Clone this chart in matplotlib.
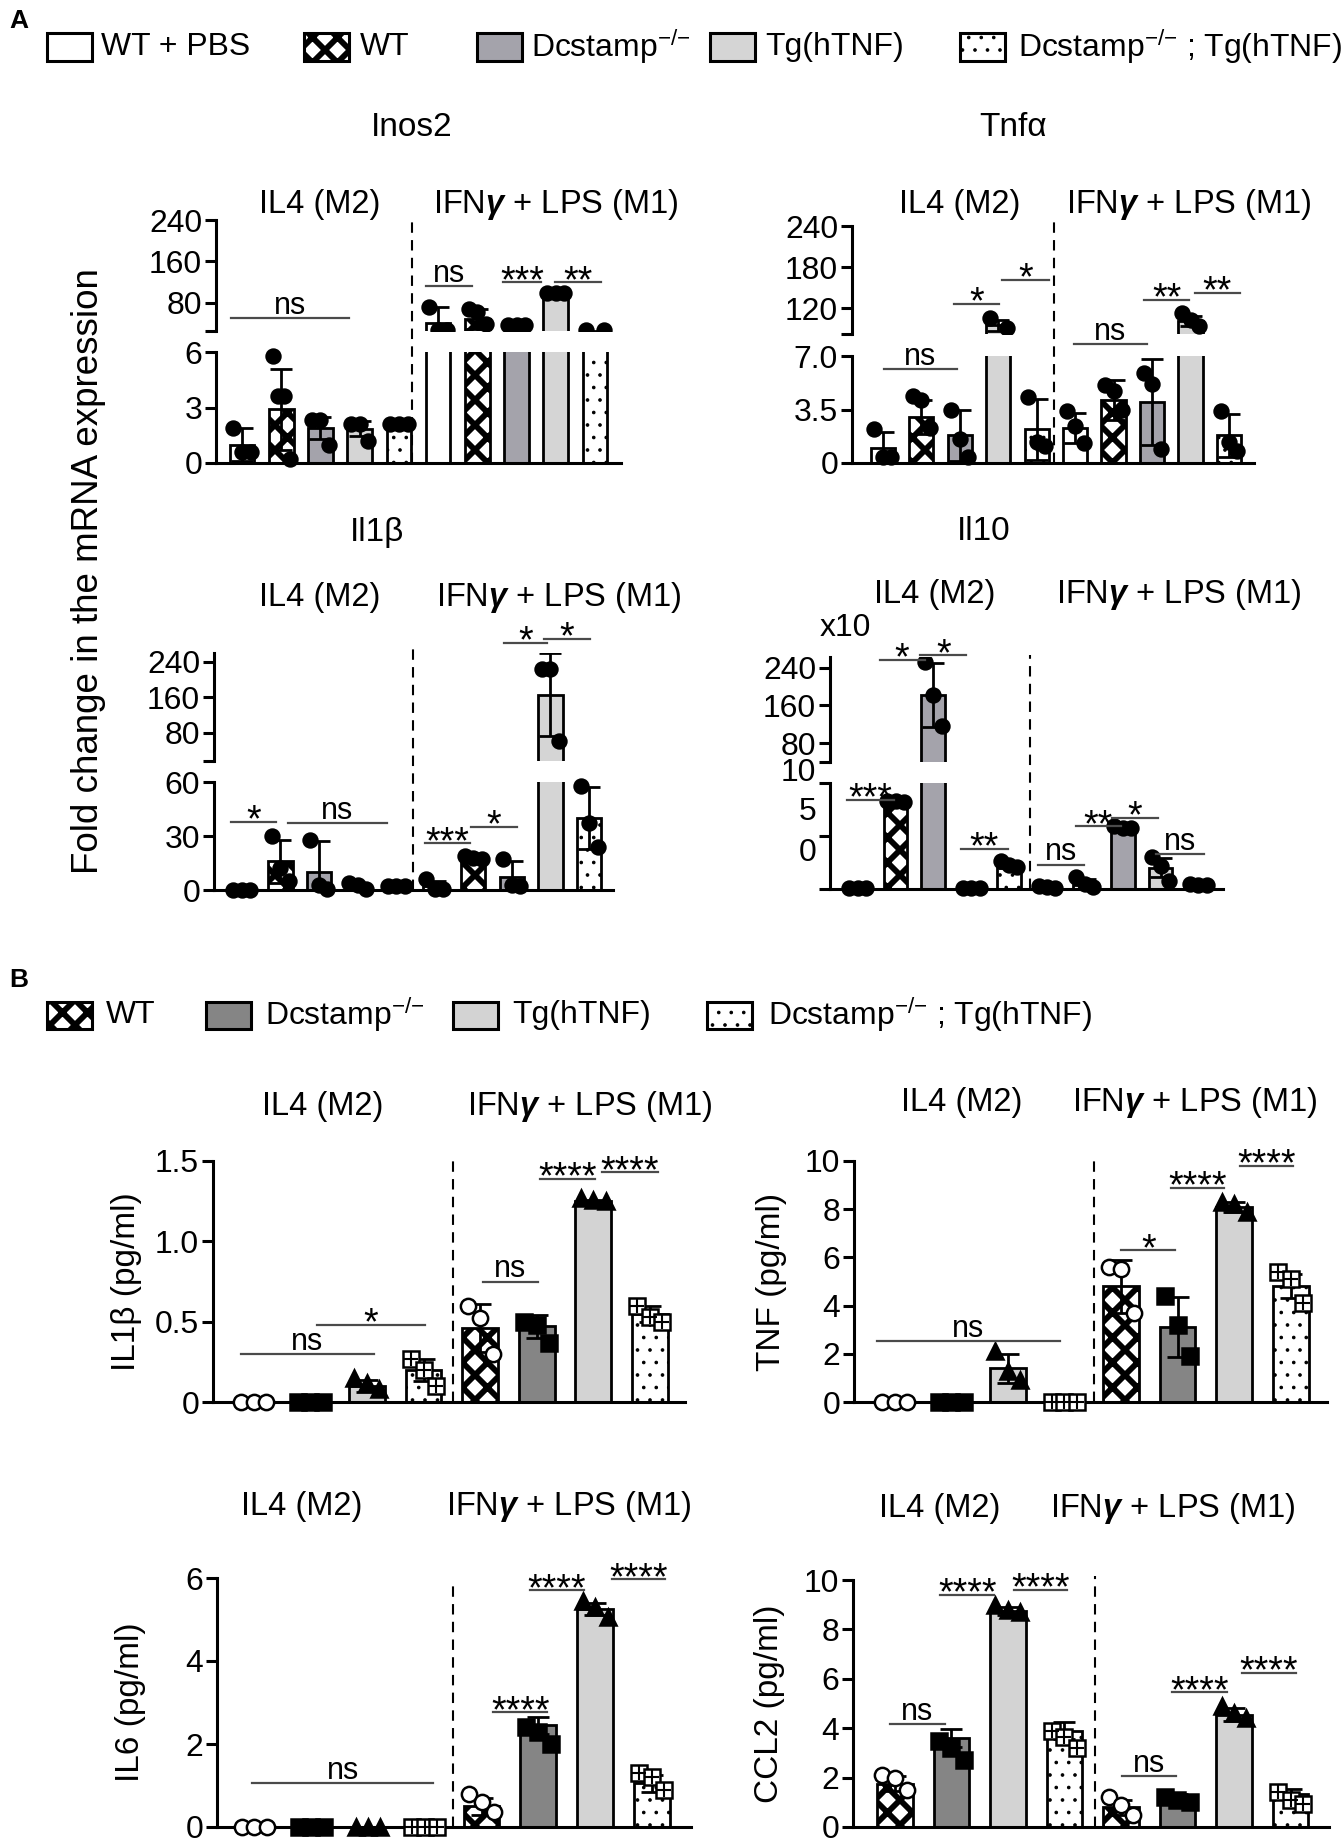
import numpy as np
import matplotlib.pyplot as plt
from matplotlib.patches import Rectangle
from matplotlib.transforms import blended_transform_factory

# rendering at 75 dpi gives hatch cells of 75 px (denser crosshatch);
# every size below is written as if at 100 dpi and scaled by K
DPI = 75
K = 100 / DPI

plt.rcParams['font.family'] = ['Liberation Sans', 'DejaVu Sans']
plt.rcParams['mathtext.fontset'] = 'custom'
plt.rcParams['mathtext.rm'] = 'Liberation Sans'
plt.rcParams['mathtext.it'] = 'Liberation Sans:italic'
plt.rcParams['mathtext.bf'] = 'Liberation Sans:bold:italic'
plt.rcParams['hatch.linewidth'] = 4.2 * K

W, H = 1344, 1847

# ---------------- data ----------------
genotypes = ['WT + PBS', 'WT', r'Dcstamp$^{-/{-}}$', 'Tg(hTNF)', r'Dcstamp$^{-/{-}}$ ; Tg(hTNF)']
treatments = ['IL4 (M2)', r'IFN$\mathbf{\gamma}$ + LPS (M1)']
genes_a = ['Inos2', 'Tnfα', 'Il1β', 'Il10']
cytokines_b = ['IL1β (pg/ml)', 'TNF (pg/ml)', 'IL6 (pg/ml)', 'CCL2 (pg/ml)']

# panel A: 10 bars = 5 genotypes x (IL4, IFNg+LPS); sig = (from, to, height, label, axis)
inos2_mean = [1.0, 2.9, 1.9, 1.85, 2.0, 42, 49, 38, 99, 25]
inos2_sd = [0.9, 2.2, 0.6, 0.4, 0.1, 30, 20, 2, 3, 1]
inos2_pts = [[1.9, 0.6, 0.6], [5.8, 3.6, 3.6, 0.2], [2.3, 2.3, 1.0], [2.1, 2.1, 1.2], [2.1, 2.1, 2.1],
             [72, 27, 27], [68, 62, 40], [38, 38, 38], [100, 100, 100], [27, 27]]
inos2_sig = [(-0.29, 2.74, 51, 'ns', 't'), (4.68, 5.87, 113, 'ns', 't'),
             (6.66, 7.63, 120, '***', 't'), (7.98, 9.16, 120, '**', 't')]

tnfa_mean = [1.0, 3.0, 1.8, 95, 2.2, 2.3, 4.1, 4.0, 101, 1.8]
tnfa_sd = [1.0, 1.1, 1.7, 8, 2.0, 1.0, 1.3, 2.8, 8, 1.4]
tnfa_pts = [[2.2, 0.4, 0.4], [4.4, 4.1, 2.3], [3.5, 1.6, 0.4], [105, 91], [4.3, 1.4, 1.1],
            [3.4, 2.4, 1.3], [5.1, 4.7, 3.5], [5.9, 5.2, 0.9], [113, 102, 93], [3.4, 1.4, 0.8]]
tnfa_sig = [(0.03, 1.92, 6.15, 'ns', 'b'), (1.86, 3.02, 126, '*', 't'), (3.11, 4.31, 161, '*', 't'),
            (4.97, 6.86, 7.8, 'ns', 'b'), (6.8, 7.96, 132, '**', 't'), (8.11, 9.28, 142, '**', 't')]

il1b_mean = [0.5, 16, 10, 2, 2, 2, 18, 7, 166, 40]
il1b_sd = [0.3, 12, 17, 1.5, 0.5, 3, 1, 9, 93, 17]
il1b_pts = [[0, 0, 0], [30, 12, 5], [28, 3, 0.5], [4, 3, 0.5], [2.5, 2.5, 2],
            [6, 0.5, 0.5], [19, 18, 17], [17, 3, 2.5], [225, 225, 62], [58, 37, 24]]
il1b_sig = [(-0.27, 0.89, 38, '*', 'b'), (1.19, 3.77, 37, 'ns', 'b'), (4.75, 5.91, 26, '***', 'b'),
            (5.93, 7.12, 35, '*', 'b'), (6.8, 7.92, 283, '*', 't'), (7.83, 9.02, 292, '*', 't')]

il10_mean = [0.1, 8.3, 183, 0.1, 2.3, 0.2, 0.4, 5.8, 2.0, 0.4]
il10_sd = [0.05, 0.1, 68, 0.05, 0.3, 0.1, 0.5, 0.1, 0.9, 0.1]
il10_pts = [[0.1, 0.1, 0.1], [8.3, 8.3, 8.2], [252, 183, 117], [0.1, 0.1, 0.1], [2.6, 2.3, 2.1],
            [0.3, 0.2, 0.1], [1.1, 0.5, 0.2], [5.9, 5.8, 5.8], [3.0, 2.2, 0.8], [0.5, 0.4, 0.4]]
il10_sig = [(-0.27, 0.95, 8.4, '***', 'b'), (0.58, 1.77, 257, '*', 't'), (1.65, 2.87, 267, '*', 't'),
            (2.74, 3.96, 3.8, '**', 'b'), (4.76, 5.98, 2.3, 'ns', 'b'), (5.76, 6.95, 5.9, '**', 'b'),
            (6.71, 7.93, 6.7, '*', 'b'), (7.87, 9.15, 3.3, 'ns', 'b')]

# panel B: 8 bars = 4 genotypes x (IL4, IFNg+LPS)
il1b_b_mean = [0, 0, 0.1, 0.2, 0.46, 0.47, 1.25, 0.55]
il1b_b_sd = [0, 0, 0.04, 0.07, 0.15, 0.07, 0.01, 0.05]
il1b_b_pts = [[0, 0, 0], [0, 0, 0], [0.15, 0.12, 0.08], [0.27, 0.2, 0.1],
              [0.6, 0.52, 0.3], [0.5, 0.48, 0.37], [1.27, 1.26, 1.25], [0.6, 0.53, 0.5]]
il1b_b_sig = [(-0.23, 2.12, 0.3, 'ns'), (1.11, 3.03, 0.48, '*'), (4.05, 5.02, 0.75, 'ns'),
              (5.06, 6.03, 1.39, '****'), (6.16, 7.14, 1.43, '****')]

tnf_mean = [0, 0, 1.4, 0, 4.8, 3.1, 8.1, 4.8]
tnf_sd = [0, 0, 0.6, 0, 1.1, 1.25, 0.2, 0.5]
tnf_pts = [[0, 0, 0], [0, 0, 0], [2.1, 1.3, 0.9], [0, 0, 0],
           [5.6, 5.5, 3.7], [4.4, 3.2, 1.9], [8.3, 8.2, 7.9], [5.4, 5.1, 4.1]]
tnf_sig = [(-0.31, 2.92, 2.53, 'ns'), (4.0, 4.96, 6.3, '*'), (4.88, 5.82, 8.9, '****'),
           (6.1, 7.04, 9.8, '****')]

il6_mean = [0, 0, 0, 0, 0.5, 2.45, 5.25, 1.05]
il6_sd = [0, 0, 0, 0, 0.2, 0.2, 0.15, 0.2]
il6_pts = [[0, 0, 0], [0, 0, 0], [0, 0, 0], [0, 0, 0],
           [0.8, 0.6, 0.35], [2.4, 2.3, 2.0], [5.45, 5.3, 5.05], [1.3, 1.2, 0.9]]
il6_sig = [(-0.04, 3.15, 1.05, 'ns'), (4.2, 5.16, 2.76, '****'), (4.86, 5.8, 5.7, '****'),
           (6.3, 7.24, 5.97, '****')]

ccl2_mean = [1.75, 3.6, 8.75, 3.9, 0.8, 1.25, 4.55, 1.35]
ccl2_sd = [0.3, 0.35, 0.15, 0.35, 0.3, 0.1, 0.25, 0.2]
ccl2_pts = [[2.1, 2.0, 1.5], [3.5, 3.2, 2.7], [9.0, 8.8, 8.7], [3.9, 3.65, 3.2],
            [1.2, 0.9, 0.5], [1.2, 1.1, 1.0], [4.9, 4.6, 4.4], [1.4, 1.1, 0.95]]
ccl2_sig = [(-0.08, 0.88, 4.15, 'ns'), (0.8, 1.76, 9.4, '****'), (2.1, 3.04, 9.6, '****'),
            (4.02, 4.98, 2.05, 'ns'), (4.9, 5.88, 5.45, '****'), (6.14, 7.1, 6.25, '****')]

# ---------------- styles ----------------
a_face = ['white', 'white', '#a4a3ab', '#d5d5d5', 'white']
a_hatch = [None, 'x', None, None, '.']
b_face = ['white', '#858585', '#d3d3d3', 'white']
b_hatch = ['x', None, None, '.']
b_marker = ['o', 's', '^', 's']
b_mfc = ['white', 'black', 'black', 'white']

FS_TICK = 23 * K
FS_TEXT = 23.5 * K

fig = plt.figure(figsize=(W / DPI, H / DPI), dpi=DPI)


def add_ax(x0, y0, x1, y1):
    return fig.add_axes([x0 / W, 1 - y1 / H, (x1 - x0) / W, (y1 - y0) / H])


def style(ax, bottom=True):
    ax.spines['top'].set_visible(False)
    ax.spines['right'].set_visible(False)
    ax.spines['left'].set_linewidth(2.2 * K)
    ax.spines['bottom'].set_linewidth(2.2 * K)
    ax.spines['bottom'].set_visible(bottom)
    ax.set_xticks([])
    ax.tick_params(axis='y', direction='out', length=8 * K, width=2.2 * K,
                   labelsize=FS_TICK, pad=2 * K)
    ax.patch.set_alpha(0)


def set_hatch(p, h):
    if h:
        p.set_hatch(h)
        if hasattr(p, 'set_hatch_linewidth'):
            p.set_hatch_linewidth((4.2 if h == 'x' else 0.8) * K)


def draw_bars(ax, idx, means, faces, hatches, width):
    for i in idx:
        b = ax.bar(i, means[i], width, color=faces[i], edgecolor='black',
                   linewidth=2 * K, zorder=2)[0]
        set_hatch(b, hatches[i])


def draw_err(ax, idx, means, sds):
    idx = list(idx)
    ax.errorbar(idx, [means[i] for i in idx], yerr=[sds[i] for i in idx], fmt='none',
                ecolor='black', elinewidth=2 * K, capsize=8 * K, capthick=2 * K, zorder=3)


def draw_pts(ax, pts, markers, faces, ms, lo=-1e9, hi=1e9, clip=False):
    for i, p in enumerate(pts):
        off = np.linspace(-0.22, 0.22, len(p))
        v = np.array(p, float)
        keep = (v > lo) & (v <= hi)
        if not keep.any():
            continue
        m = markers[i % len(markers)]
        f = faces[i % len(faces)]
        ax.plot(i + off[keep], v[keep], ls='none', marker=m, mfc=f, mec='black',
                ms=ms * K, mew=1.8 * K, clip_on=clip, zorder=4)
        if m == 's' and f == 'white':
            ax.plot(i + off[keep], v[keep], ls='none', marker='+', color='black',
                    ms=ms * 0.95 * K, mew=1.5 * K, clip_on=clip, zorder=5)


def sig(ax, x1, x2, y, label):
    ax.plot([x1, x2], [y, y], color='#4a4a4a', lw=1.6 * K, clip_on=False, zorder=5)
    if label == 'ns':
        ax.annotate(label, ((x1 + x2) / 2, y), xytext=(0, 3 * K), textcoords='offset points',
                    ha='center', va='baseline', fontsize=22 * K, annotation_clip=False)
    else:
        ax.annotate(label, ((x1 + x2) / 2, y), xytext=(0, -7 * K), textcoords='offset points',
                    ha='center', va='baseline', fontsize=27 * K, annotation_clip=False)


def separator(ax, xd, y_top_px, y0_px, y1_px):
    frac = (y1_px - y_top_px) / (y1_px - y0_px)
    tr = blended_transform_factory(ax.transData, ax.transAxes)
    ax.plot([xd, xd], [0, frac], transform=tr, color='black', lw=1.5 * K,
            ls=(0, (5, 3.5)), clip_on=False, zorder=1)


def broken_panel(xs, ty, by, xlim, ylim_t, yt_t, ylim_b, yt_b, ytl_b,
                 mean, sd, pts, sigs, sep_x, sep_top):
    ax_t = add_ax(xs[0], ty[0], xs[1], ty[1])
    ax_b = add_ax(xs[0], by[0], xs[1], by[1])
    faces = a_face * 2
    hatches = a_hatch * 2
    n = len(mean)
    high = [i for i in range(n) if mean[i] > ylim_b[1]]
    draw_bars(ax_t, high, mean, faces, hatches, 0.63)
    draw_err(ax_t, high, mean, sd)
    draw_bars(ax_b, range(n), mean, faces, hatches, 0.63)
    draw_err(ax_b, range(n), mean, sd)
    for ax, yl in [(ax_t, ylim_t), (ax_b, ylim_b)]:
        ax.set_xlim(*xlim)
        ax.set_ylim(*yl)
    draw_pts(ax_t, pts, ['o'], ['black'], 10, lo=ylim_b[1], clip=True)
    draw_pts(ax_b, pts, ['o'], ['black'], 10, hi=ylim_b[1], clip=False)
    style(ax_t, bottom=False)
    style(ax_b)
    ax_t.set_yticks([ylim_t[0]] + yt_t, [''] + [str(v) for v in yt_t])
    ax_b.set_yticks(yt_b, ytl_b)
    for x1, x2, y, lab, which in sigs:
        sig(ax_t if which == 't' else ax_b, x1, x2, y, lab)
    separator(ax_b, sep_x, sep_top, by[0], by[1])
    return ax_t, ax_b


def simple_panel(xs, ys, xlim, ylim, yt, ytl, mean, sd, pts, sigs, sep_x, sep_top, ylabel, ylab_x):
    ax = add_ax(xs[0], ys[0], xs[1], ys[1])
    n = len(mean)
    draw_bars(ax, range(n), mean, b_face * 2, b_hatch * 2, 0.63)
    draw_err(ax, range(n), mean, sd)
    draw_pts(ax, pts, b_marker, b_mfc, 11)
    ax.set_xlim(*xlim)
    ax.set_ylim(*ylim)
    style(ax)
    ax.set_yticks(yt, ytl)
    for x1, x2, y, lab in sigs:
        sig(ax, x1, x2, y, lab)
    separator(ax, sep_x, sep_top, ys[0], ys[1])
    fig.text(ylab_x / W, 1 - (ys[0] + ys[1]) / 2 / H, ylabel, rotation=90,
             ha='center', va='center', fontsize=24 * K)
    return ax


def text_px(x, y, s, size=FS_TEXT, **kw):
    fig.text(x / W, 1 - y / H, s, ha='center', va='center', fontsize=size, **kw)


def legend_row(labels, faces, hatches, box_x, text_x, yc):
    bw, bh = 45, 27
    for lab, f, h, bx, tx in zip(labels, faces, hatches, box_x, text_x):
        r = Rectangle((bx / W, 1 - (yc + bh / 2) / H), bw / W, bh / H, transform=fig.transFigure,
                      facecolor=f, edgecolor='black', linewidth=2.2 * K)
        set_hatch(r, h)
        fig.add_artist(r)
        fig.text(tx / W, 1 - yc / H, lab, ha='left', va='center', fontsize=23 * K)


# ---------------- panel A ----------------
broken_panel((216, 621), (220, 331), (352, 463), (-0.66, 9.66), (26, 240), [80, 160, 240],
             (0, 6), [0, 3, 6], ['0', '3', '6'], inos2_mean, inos2_sd, inos2_pts, inos2_sig, 4.34, 220)
broken_panel((852, 1254), (226, 334), (356, 463), (-0.8, 9.65), (82, 240), [120, 180, 240],
             (0, 7), [0, 3.5, 7], ['0', '3.5', '7.0'], tnfa_mean, tnfa_sd, tnfa_pts, tnfa_sig, 4.45, 220)
broken_panel((214, 613), (653, 761), (782, 890), (-0.72, 9.62), (17, 260), [80, 160, 240],
             (0, 60), [0, 30, 60], ['0', '30', '60'], il1b_mean, il1b_sd, il1b_pts, il1b_sig, 4.44, 645)
ax10_t, ax10_b = broken_panel((830, 1223), (657, 762), (783, 889), (-0.73, 9.65), (40, 263),
                              [80, 160, 240], (0, 10), [0, 5, 10], ['', '', ''],
                              il10_mean, il10_sd, il10_pts, il10_sig, 4.54, 655)
for lab, yv in [('10', 10.9), ('5', 7.3), ('0', 3.4)]:
    ax10_b.annotate(lab, xy=(0, yv), xycoords=('axes fraction', 'data'), xytext=(-10 * K, 0),
                    textcoords='offset points', ha='right', va='center', fontsize=FS_TICK,
                    annotation_clip=False)
text_px(845, 628, 'x10', size=FS_TICK)

for (x, y), s in zip([(412, 127), (1013, 127), (377, 532), (984, 532)], genes_a):
    text_px(x, y, s, size=24 * K)

for (x1, x2, y) in [(320, 556, 205), (960, 1189, 205), (320, 559, 597), (935, 1179, 595)]:
    text_px(x1, y, treatments[0])
    text_px(x2, y, treatments[1])

text_px(88, 571, 'Fold change in the mRNA expression', size=26.5 * K, rotation=90)

# ---------------- panel B ----------------
simple_panel((213, 685), (1161, 1402), (-0.72, 7.62), (0, 1.5), [0, 0.5, 1.0, 1.5],
             ['0', '0.5', '1.0', '1.5'], il1b_b_mean, il1b_b_sd, il1b_b_pts, il1b_b_sig,
             3.52, 1155, cytokines_b[0], 127)
simple_panel((854, 1327), (1161, 1402), (-0.72, 7.64), (0, 10), [0, 2, 4, 6, 8, 10],
             ['0', '2', '4', '6', '8', '10'], tnf_mean, tnf_sd, tnf_pts, tnf_sig,
             3.52, 1157, cytokines_b[1], 771)
simple_panel((217, 691), (1578, 1827), (-0.66, 7.69), (0, 6), [0, 2, 4, 6],
             ['0', '2', '4', '6'], il6_mean, il6_sd, il6_pts, il6_sig,
             3.5, 1581, cytokines_b[2], 130)
simple_panel((853, 1329), (1580, 1827), (-0.74, 7.68), (0, 10), [0, 2, 4, 6, 8, 10],
             ['0', '2', '4', '6', '8', '10'], ccl2_mean, ccl2_sd, ccl2_pts, ccl2_sig,
             3.54, 1576, cytokines_b[3], 769)

for (x1, x2, y) in [(323, 590, 1107), (962, 1195, 1102), (302, 569, 1507), (940, 1173, 1508)]:
    text_px(x1, y, treatments[0])
    text_px(x2, y, treatments[1])

# ---------------- legends & letters ----------------
legend_row(genotypes, a_face, a_hatch, [47, 304, 477, 710, 960], [101, 360, 531, 765, 1018], 47)
legend_row(genotypes[1:], b_face, b_hatch, [47, 206, 453, 707], [106, 265, 512, 768], 1015)

fig.text(9 / W, 1 - 21 / H, 'A', fontsize=19 * K, fontweight='bold', va='center')
fig.text(9 / W, 1 - 980 / H, 'B', fontsize=19 * K, fontweight='bold', va='center')

fig.savefig('out.png', dpi=DPI)
